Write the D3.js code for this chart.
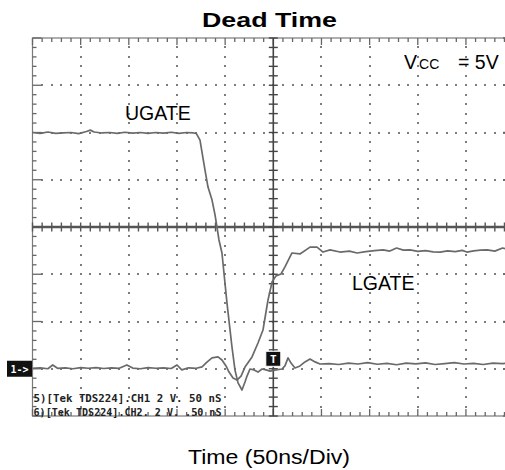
<!DOCTYPE html>
<html>
<head>
<meta charset="utf-8">
<script src="https://cdn.jsdelivr.net/npm/d3@7"></script>
<style>
  html, body { margin: 0; padding: 0; background: #fff; }
  svg { display: block; }
</style>
</head>
<body>
<div id="chart"></div>
<script>
// ---- Data (time in ns relative to trigger, voltage in V; 50 ns/div, 2 V/div) ----
const ugateT = [-250,-242,-234,-226,-218,-210,-202,-194,-190,-186,-178,-170,-162,-154,-146,-138,-130,-122,-114,-106,-98,-90,-83,-80,
  -76.1,-73.0,-70.9,-67.8,-63.6,-60.5,-58.5,-56.4,-53.3,-48.1,-42.9,-39.8,-36.6,-32.5,-29.4,-27.3,-24.2,-20.0,-15.9,-11.7,-7.6,-3.4,
  2.8,9.0,12.1,15.3,18.4,22.5,27.7,32.9,38.1,43.3,48.5,58,68,78,88,98,108,118,128,138,148,158,168,178,188,198,208,218,228,238,250];
const ugateV = [10.00,9.96,10.02,9.96,9.98,10.00,9.95,10.04,10.10,10.02,9.98,10.00,9.96,10.01,9.97,10.00,9.96,10.00,9.97,10.01,9.96,10.00,9.98,9.96,
  9.68,8.92,8.41,7.69,7.14,6.51,6.00,5.45,4.90,2.79,0.92,-0.05,-0.60,-0.90,-0.56,-0.31,-0.01,-0.05,-0.14,-0.01,-0.05,-0.10,
  -0.05,-0.01,0.12,0.46,0.24,0.03,0.12,0.29,0.41,0.29,0.20,0.22,0.18,0.24,0.20,0.26,0.19,0.23,0.17,0.24,0.21,0.25,0.18,0.22,0.26,0.20,0.23,0.18,0.24,0.22,0.26];

const lgateT = [-250,-242,-234,-229,-224,-216,-208,-200,-192,-184,-176,-168,-160,-152,-146,-138,-130,-122,-114,-106,-100,-95,-88,-80,-74,
  -68.6,-63.6,-57.4,-53.3,-49.1,-46.0,-41.8,-37.7,-33.5,-29.4,-22.1,-15.9,-10.7,-5.5,-1.3,2.8,8.0,12.1,19.4,27.7,38.1,45.4,51.6,58.9,69.2,
  79,87,96,105,114,121,128,135,142,150,158,166,173,181,189,196,201,208,215,222,230,238,245,250];
const lgateV = [0.02,0.04,0.00,0.16,0.02,0.04,0.00,0.05,0.02,0.05,0.01,0.04,0.02,0.16,0.03,0.00,0.05,0.02,0.04,0.01,0.16,-0.05,0.04,0.02,0.08,
  0.29,0.46,0.50,0.37,0.12,-0.14,-0.39,-0.48,-0.31,0.07,0.50,1.09,1.64,2.91,3.67,3.93,4.01,4.31,4.90,4.86,5.15,5.15,4.94,5.03,4.94,
  4.98,4.90,4.96,5.00,5.03,4.98,5.11,5.02,5.03,4.97,5.00,4.95,4.94,4.99,4.96,5.01,4.94,4.99,5.02,5.03,4.98,5.11,5.04,5.02];

const seriesNames = ["UGATE", "LGATE"];
const titleText = "Dead Time";
const xLabelText = "Time  (50ns/Div)";
const scopeLines = ["5)[Tek TDS224].CH1  2  V.   50 nS", "6)[Tek TDS224].CH2. 2  V.  .50 nS"];
const gridDivsX = [-200, -150, -100, -50, 50, 100, 150, 200];
const gridDivsY = [0, 2, 4, 8, 10, 12];

// ---- Layout ----
const W = 505, H = 470;
const svg = d3.select("#chart").append("svg").attr("width", W).attr("height", H);

const x = d3.scaleLinear().domain([-250, 250]).range([32.5, 514.1]);
const y = d3.scaleLinear().domain([-2, 14]).range([416, 38]);

const xMinor = d3.range(-250, 251, 10);
const yMinor = d3.range(-2, 14.01, 0.4);

const x0 = x(-250), x1 = x(250), y0 = y(14), y1 = y(-2);

// dotted grid as individual pixel-aligned dots
const dots = [];
gridDivsX.forEach(v => yMinor.forEach((w, i) => { if (i > 0 && i < yMinor.length - 1) dots.push([v, w]); }));
gridDivsY.forEach(w => xMinor.forEach((v, i) => { if (i > 0 && i < xMinor.length - 1) dots.push([v, w]); }));
svg.append("g").attr("class", "dots").attr("shape-rendering", "crispEdges")
  .selectAll("rect").data(dots).join("rect")
  .attr("x", d => Math.round(x(d[0])) - 1).attr("y", d => Math.round(y(d[1])) - 1)
  .attr("width", 2).attr("height", 2).attr("fill", "#7d7d7d");

const grid = svg.append("g").attr("class", "grid");

// frame
grid.append("rect").attr("x", x0).attr("y", y0).attr("width", x1 - x0).attr("height", y1 - y0)
  .attr("fill", "none").attr("stroke", "#7a7a7a").attr("stroke-width", 1.2);

const isMajX = d => Math.abs(d % 50) < 1e-6;
const isMajY = d => { const r = Math.abs((d + 2) % 2); return r < 1e-6 || Math.abs(r - 2) < 1e-6; };

// frame ticks top/bottom
grid.append("g").selectAll("line").data(xMinor).join("line")
  .attr("x1", d => x(d)).attr("x2", d => x(d))
  .attr("y1", y0).attr("y2", d => y0 + (isMajX(d) ? 7 : 4))
  .attr("stroke", "#666").attr("stroke-width", 1.3);
grid.append("g").selectAll("line").data(xMinor).join("line")
  .attr("x1", d => x(d)).attr("x2", d => x(d))
  .attr("y1", y1).attr("y2", d => y1 - (isMajX(d) ? 7 : 4))
  .attr("stroke", "#666").attr("stroke-width", 1.3);
// frame ticks left/right
grid.append("g").selectAll("line").data(yMinor).join("line")
  .attr("x1", x0).attr("x2", d => x0 + (isMajY(d) ? 9 : 4))
  .attr("y1", d => y(d)).attr("y2", d => y(d))
  .attr("stroke", "#666").attr("stroke-width", 1.3);
grid.append("g").selectAll("line").data(yMinor).join("line")
  .attr("x1", x1).attr("x2", d => x1 - (isMajY(d) ? 11 : 4))
  .attr("y1", d => y(d)).attr("y2", d => y(d))
  .attr("stroke", "#666").attr("stroke-width", 1.3);

// center axes
grid.append("line").attr("x1", x0).attr("x2", x1).attr("y1", y(6)).attr("y2", y(6))
  .attr("stroke", "#555").attr("stroke-width", 2.6);
grid.append("line").attr("x1", x(0)).attr("x2", x(0)).attr("y1", y0).attr("y2", y1)
  .attr("stroke", "#444").attr("stroke-width", 1.6);
grid.append("g").selectAll("line").data(xMinor).join("line")
  .attr("x1", d => x(d)).attr("x2", d => x(d))
  .attr("y1", y(6) - 4.5).attr("y2", y(6) + 4.5)
  .attr("stroke", "#555").attr("stroke-width", 1.4);
grid.append("g").selectAll("line").data(yMinor).join("line")
  .attr("x1", x(0) - 4.5).attr("x2", x(0) + 4.5)
  .attr("y1", d => y(d)).attr("y2", d => y(d))
  .attr("stroke", "#444").attr("stroke-width", 1.4);

// traces
const line = d3.line().x(d => x(d[0])).y(d => y(d[1]));
const ugate = ugateT.map((t, i) => [t, ugateV[i]]);
const lgate = lgateT.map((t, i) => [t, lgateV[i]]);
svg.append("path").datum(ugate).attr("d", line).attr("fill", "none")
  .attr("stroke", "#6a6a6a").attr("stroke-width", 1.7).attr("stroke-linejoin", "round");
svg.append("path").datum(lgate).attr("d", line).attr("fill", "none")
  .attr("stroke", "#6a6a6a").attr("stroke-width", 1.7).attr("stroke-linejoin", "round");

// ground marker
svg.append("rect").attr("x", 7).attr("y", y(0) - 8).attr("width", 25).attr("height", 16).attr("fill", "#111");
svg.append("text").attr("x", 19.5).attr("y", y(0) + 4).attr("text-anchor", "middle")
  .attr("font-family", "DejaVu Sans Mono, monospace").attr("font-weight", "bold").attr("font-size", 10)
  .attr("fill", "#fff").text("1->");

// trigger marker
svg.append("rect").attr("x", x(0) - 7.5).attr("y", y(0.4) - 8).attr("width", 15).attr("height", 15)
  .attr("fill", "#111").attr("stroke", "#fff").attr("stroke-width", 1);
svg.append("text").attr("x", x(0)).attr("y", y(0.4) + 4).attr("text-anchor", "middle")
  .attr("font-family", "DejaVu Sans Mono, monospace").attr("font-weight", "bold").attr("font-size", 11)
  .attr("fill", "#fff").text("T");

// scope text
svg.append("g").selectAll("text").data(scopeLines).join("text")
  .attr("x", x0 + 1).attr("y", (d, i) => 402 + i * 14)
  .attr("font-family", "DejaVu Sans Mono, monospace").attr("font-weight", "bold").attr("font-size", 11)
  .attr("fill", "#222").attr("textLength", 188).attr("lengthAdjust", "spacingAndGlyphs").text(d => d);

// labels
const font = "Liberation Sans, Arial, sans-serif";
svg.append("text").attr("x", 202).attr("y", 27).attr("font-family", font).attr("font-weight", "bold")
  .attr("font-size", 21).attr("textLength", 135).attr("lengthAdjust", "spacingAndGlyphs").attr("fill", "#000").text(titleText);
svg.append("text").attr("x", 125).attr("y", 120).attr("font-family", font).attr("font-size", 19.5)
  .attr("fill", "#000").text(seriesNames[0]);
svg.append("text").attr("x", 352).attr("y", 290).attr("font-family", font).attr("font-size", 19.5)
  .attr("fill", "#000").text(seriesNames[1]);

const vcc = svg.append("text").attr("x", 404).attr("y", 69).attr("font-family", font).attr("font-size", 19.5).attr("fill", "#000");
vcc.append("tspan").text("V");
vcc.append("tspan").attr("font-size", 14).attr("dx", 2).text("CC");
vcc.append("tspan").attr("x", 458).text("= 5V");

svg.append("text").attr("x", 188).attr("y", 464).attr("font-family", font).attr("font-size", 19.5)
  .attr("textLength", 162).attr("lengthAdjust", "spacingAndGlyphs").attr("fill", "#000").text(xLabelText);
</script>
</body>
</html>
